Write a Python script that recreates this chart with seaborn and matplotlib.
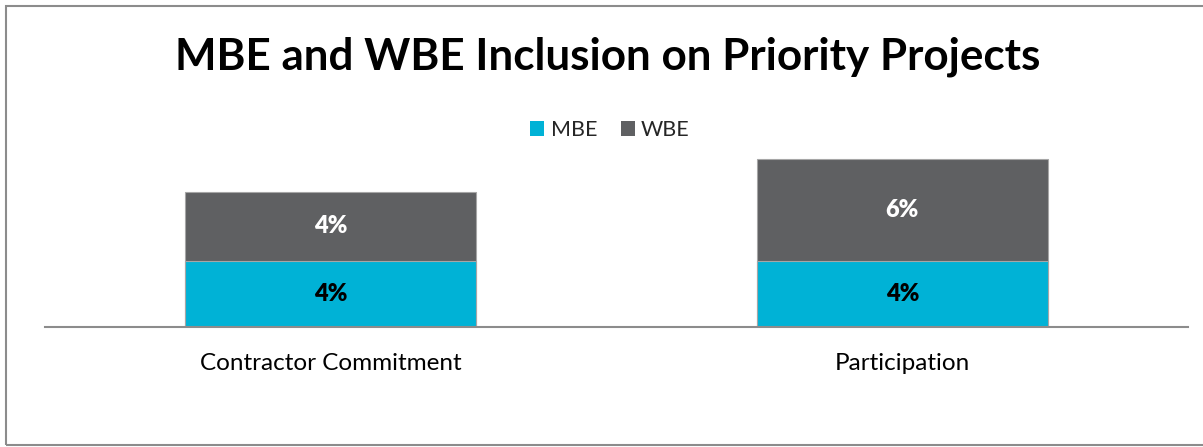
import matplotlib
matplotlib.use("Agg")
import matplotlib.pyplot as plt
import seaborn as sns
import pandas as pd
from matplotlib.patches import Patch, Rectangle

categories = ["Contractor Commitment", "Participation"]
mbe_values = [4.0, 4.0]
wbe_values = [4.2, 6.2]
mbe_labels = ["4%", "4%"]
wbe_labels = ["4%", "6%"]

MBE_COLOR = "#00B2D6"
WBE_COLOR = "#5F6062"

sns.set_theme(style="white")
plt.rcParams["font.family"] = ["Lato", "DejaVu Sans"]

W, H = 1203, 447
fig = plt.figure(figsize=(W / 100, H / 100), dpi=100)
fig.patch.set_facecolor("white")

ax_left, ax_right = 45, 1188
ax_bottom = 327
ax_top = 145.5
ax = fig.add_axes([ax_left / W, (H - ax_bottom) / H, (ax_right - ax_left) / W, (ax_bottom - ax_top) / H])

totals = [m + w for m, w in zip(mbe_values, wbe_values)]
df = pd.DataFrame({"category": categories, "mbe": mbe_values, "total": totals})

sns.barplot(data=df, x="category", y="total", color=WBE_COLOR, saturation=1,
            width=0.51, edgecolor="#A6A6A6", linewidth=0.8, ax=ax)
sns.barplot(data=df, x="category", y="mbe", color=MBE_COLOR, saturation=1,
            width=0.51, edgecolor="#A6A6A6", linewidth=0.8, ax=ax)

ax.set_ylim(0, 11)
ax.set_xlim(-0.5, 1.5)

for i, (m, w) in enumerate(zip(mbe_values, wbe_values)):
    ax.text(i, m / 2, mbe_labels[i], ha="center", va="center", fontsize=17,
            fontweight="heavy", color="black")
    ax.text(i, m + w / 2, wbe_labels[i], ha="center", va="center", fontsize=17,
            fontweight="heavy", color="white")

for s in ["top", "right", "left"]:
    ax.spines[s].set_visible(False)
ax.spines["bottom"].set_color("#8C8C8C")
ax.spines["bottom"].set_linewidth(1.5)
ax.set_yticks([])
ax.set_xlabel("")
ax.set_ylabel("")
ax.tick_params(axis="x", length=0, pad=19, labelsize=17.5, labelcolor="black")

fig.text(608 / W, 1 - 57 / H, "MBE and WBE Inclusion on Priority Projects",
         ha="center", va="center", fontsize=31.7, fontweight="bold", color="black")

handles = [Patch(facecolor=MBE_COLOR, edgecolor="none", label="MBE"),
           Patch(facecolor=WBE_COLOR, edgecolor="none", label="WBE")]
fig.legend(handles=handles, loc="center", bbox_to_anchor=(610 / W, 1 - 130 / H), ncol=2,
           frameon=False, fontsize=15.5, handlelength=0.65, handleheight=0.65,
           handletextpad=0.3, columnspacing=1.1)

# outer chart border (left, top, bottom)
fig.add_artist(Rectangle((6 / W, 2 / H), 1.2, (H - 8) / H, transform=fig.transFigure,
                         fill=False, edgecolor="#8C8C8C", linewidth=1.5))

fig.savefig("out.png", dpi=100, facecolor="white")
